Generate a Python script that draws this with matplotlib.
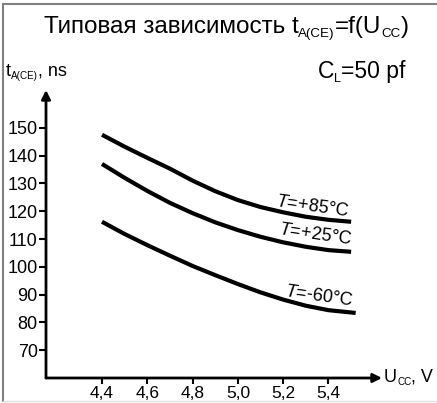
import matplotlib
matplotlib.use('Agg')
import matplotlib.pyplot as plt
from matplotlib.lines import Line2D

plt.rcParams['font.family'] = ['Liberation Sans', 'DejaVu Sans']
plt.rcParams['mathtext.fontset'] = 'custom'
plt.rcParams['mathtext.rm'] = 'Liberation Sans'
plt.rcParams['mathtext.it'] = 'Liberation Sans:italic'

# data
u = [4.4, 4.5, 4.6, 4.7, 4.8, 4.9, 5.0, 5.1, 5.2, 5.3, 5.4, 5.5]
t_p85 = [147.5, 143.2, 139.2, 135.3, 131.0, 127.2, 124.0, 121.5, 119.6, 118.0, 116.9, 116.2]
t_p25 = [137.0, 132.0, 127.3, 123.0, 119.3, 116.0, 113.2, 110.8, 108.8, 107.2, 106.0, 105.4]
u_m60 = [4.4, 4.5, 4.6, 4.7, 4.8, 4.9, 5.0, 5.1, 5.2, 5.3, 5.4, 5.52]
t_m60 = [116.2, 111.8, 107.8, 104.0, 100.3, 97.0, 93.8, 90.8, 88.2, 86.0, 84.4, 83.4]

xticks = [4.4, 4.6, 4.8, 5.0, 5.2, 5.4]
xlabels = ['4,4', '4,6', '4,8', '5,0', '5,2', '5,4']
yticks = [70, 80, 90, 100, 110, 120, 130, 140, 150]

W, H = 437, 403
fig = plt.figure(figsize=(W / 100, H / 100), dpi=100)
renderer = fig.canvas.get_renderer()

def fx(px):
    return px / W

def fy(py):
    return 1 - py / H

def sub_text(x, y, parts, size, ha='left'):
    # parts: list of (text, is_subscript); x, y = baseline start in pixels
    pieces = []
    for s, is_sub in parts:
        fs = size * 0.55 if is_sub else size
        t = fig.text(0, 0, s, fontsize=fs, va='baseline', ha='left')
        w = t.get_window_extent(renderer).width
        pieces.append((t, w, is_sub))
    total = sum(p[1] for p in pieces)
    if ha == 'center':
        x = x - total / 2
    for t, w, is_sub in pieces:
        dy = size * 0.25 if is_sub else 0
        t.set_position((fx(x), fy(y + dy)))
        x += w

# axes box in pixels: x 46..382, y 90..378
ax = fig.add_axes([fx(46), fy(378), fx(382) - fx(46), fy(90) - fy(378)])
ax.set_xlim(4.1528, 5.6363)
ax.set_ylim(60, 163.6)

for s in ax.spines.values():
    s.set_visible(False)

# axis lines with arrows
arr = dict(arrowstyle='-|>', lw=2, color='k', mutation_scale=13, shrinkA=0, shrinkB=0)
ax.annotate('', xy=(1, 0), xytext=(0, 0), xycoords='axes fraction', arrowprops=arr)
ax.annotate('', xy=(0, 1), xytext=(0, 0), xycoords='axes fraction', arrowprops=arr)

ax.plot(u, t_p85, color='k', lw=3, solid_capstyle='butt')
ax.plot(u, t_p25, color='k', lw=3, solid_capstyle='butt')
ax.plot(u_m60, t_m60, color='k', lw=3, solid_capstyle='butt')

ax.set_xticks(xticks)
ax.set_xticklabels(xlabels)
ax.set_yticks(yticks)
ax.tick_params(axis='y', direction='out', length=5, width=1.5, pad=1, labelsize=13)
ax.tick_params(axis='x', direction='out', length=4, width=1.5, pad=1.5, labelsize=12.5)

# curve labels
ax.text(5.33, 121.8, '$T$=+85°C', fontsize=13, rotation=-8, ha='center', va='center')
ax.text(5.34, 111.4, '$T$=+25°C', fontsize=13, rotation=-8, ha='center', va='center')
ax.text(5.36, 89.2, '$T$=-60°C', fontsize=13, rotation=-8, ha='center', va='center')

# texts
sub_text(226, 33, [('Типовая зависимость t', False), ('A(CE)', True),
                   ('=f(U', False), ('CC', True), (')', False)], 17.5, ha='center')
sub_text(6, 76, [('t', False), ('A(CE)', True), (', ns', False)], 13)
sub_text(318, 78, [('C', False), ('L', True), ('=50 pf', False)], 16.5)
sub_text(384, 382, [('U', False), ('CC', True), (', V', False)], 13)

# outer frame
fig.add_artist(Line2D([fx(3), 1], [fy(4), fy(4)], color='#808080', lw=1.5))
fig.add_artist(Line2D([fx(3), fx(3)], [fy(4), fy(401)], color='#808080', lw=1.5))
fig.add_artist(Line2D([fx(3), 1], [fy(401), fy(401)], color='#e0e0e0', lw=1))

fig.savefig('out.png', dpi=100)
